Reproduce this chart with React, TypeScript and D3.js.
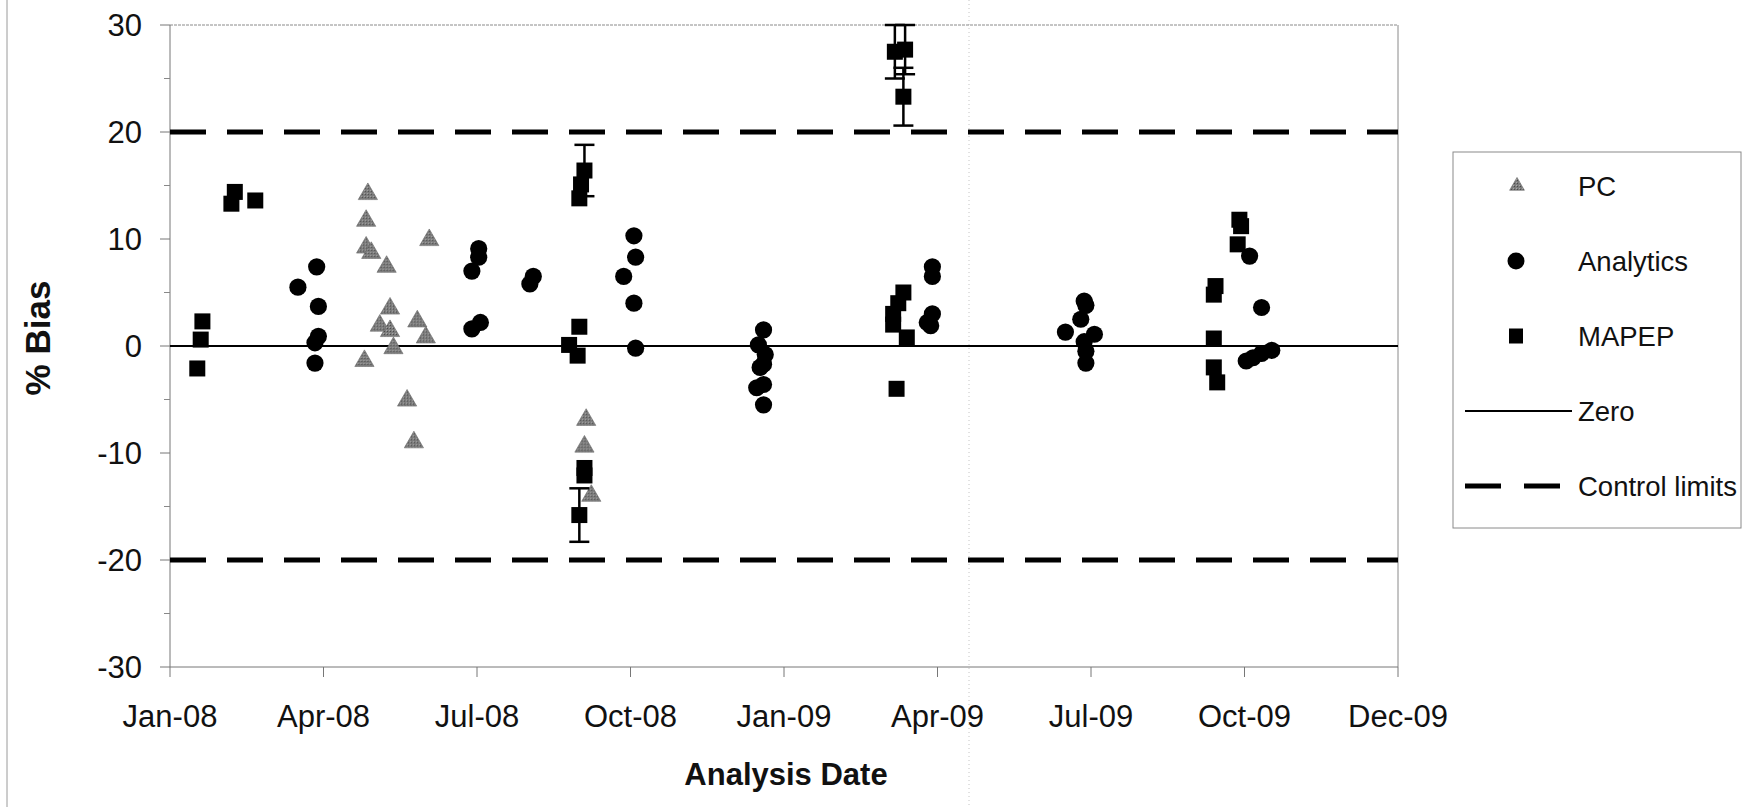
import React from "react";
import * as d3 from "d3";

// ---------- data ----------
const pcData = [
  { date: "2008-05-05", value: 14.2 },
  { date: "2008-05-04", value: 11.7 },
  { date: "2008-05-04", value: 9.2 },
  { date: "2008-05-07", value: 8.7 },
  { date: "2008-05-16", value: 7.4 },
  { date: "2008-06-10", value: 9.9 },
  { date: "2008-05-18", value: 3.5 },
  { date: "2008-05-12", value: 1.9 },
  { date: "2008-05-18", value: 1.4 },
  { date: "2008-06-03", value: 2.3 },
  { date: "2008-06-08", value: 0.8 },
  { date: "2008-05-20", value: -0.2 },
  { date: "2008-05-03", value: -1.4 },
  { date: "2008-05-28", value: -5.1 },
  { date: "2008-06-01", value: -9.0 },
  { date: "2008-09-10", value: -6.9 },
  { date: "2008-09-09", value: -9.4 },
  { date: "2008-09-13", value: -14.0 },
];

const analyticsData = [
  { date: "2008-03-25", value: 5.5 },
  { date: "2008-04-05", value: 7.4 },
  { date: "2008-04-06", value: 3.7 },
  { date: "2008-04-06", value: 0.9 },
  { date: "2008-04-04", value: 0.3 },
  { date: "2008-04-04", value: -1.6 },
  { date: "2008-07-09", value: 9.1 },
  { date: "2008-07-09", value: 8.3 },
  { date: "2008-07-05", value: 7.0 },
  { date: "2008-07-10", value: 2.2 },
  { date: "2008-07-05", value: 1.6 },
  { date: "2008-08-10", value: 6.5 },
  { date: "2008-08-08", value: 5.8 },
  { date: "2008-10-08", value: 10.3 },
  { date: "2008-10-09", value: 8.3 },
  { date: "2008-10-02", value: 6.5 },
  { date: "2008-10-08", value: 4.0 },
  { date: "2008-10-09", value: -0.2 },
  { date: "2008-12-23", value: 1.5 },
  { date: "2008-12-20", value: 0.1 },
  { date: "2008-12-24", value: -0.8 },
  { date: "2008-12-23", value: -1.7 },
  { date: "2008-12-21", value: -2.0 },
  { date: "2008-12-23", value: -3.6 },
  { date: "2008-12-19", value: -3.9 },
  { date: "2008-12-23", value: -5.5 },
  { date: "2009-04-01", value: 7.4 },
  { date: "2009-04-01", value: 6.5 },
  { date: "2009-04-01", value: 3.0 },
  { date: "2009-03-29", value: 2.2 },
  { date: "2009-03-31", value: 1.9 },
  { date: "2009-06-29", value: 4.2 },
  { date: "2009-06-30", value: 3.8 },
  { date: "2009-06-27", value: 2.5 },
  { date: "2009-06-18", value: 1.3 },
  { date: "2009-07-05", value: 1.1 },
  { date: "2009-06-29", value: 0.4 },
  { date: "2009-06-30", value: -0.5 },
  { date: "2009-06-30", value: -1.6 },
  { date: "2009-10-04", value: 8.4 },
  { date: "2009-10-11", value: 3.6 },
  { date: "2009-10-02", value: -1.4 },
  { date: "2009-10-06", value: -1.1 },
  { date: "2009-10-11", value: -0.7 },
  { date: "2009-10-17", value: -0.4 },
];

const mapepData = [
  { date: "2008-01-29", value: 2.3, err: 0 },
  { date: "2008-01-28", value: 0.6, err: 0 },
  { date: "2008-01-26", value: -2.1, err: 0 },
  { date: "2008-02-17", value: 14.4, err: 0 },
  { date: "2008-02-15", value: 13.3, err: 0 },
  { date: "2008-02-29", value: 13.6, err: 0 },
  { date: "2008-09-09", value: 16.4, err: 2.4 },
  { date: "2008-09-07", value: 15.1, err: 0 },
  { date: "2008-09-06", value: 13.8, err: 0 },
  { date: "2008-09-06", value: 1.8, err: 0 },
  { date: "2008-08-31", value: 0.1, err: 0 },
  { date: "2008-09-05", value: -0.9, err: 0 },
  { date: "2008-09-09", value: -11.4, err: 0 },
  { date: "2008-09-09", value: -12.1, err: 0 },
  { date: "2008-09-06", value: -15.8, err: 2.5 },
  { date: "2009-03-10", value: 27.5, err: 2.5 },
  { date: "2009-03-16", value: 27.7, err: 2.3 },
  { date: "2009-03-15", value: 23.3, err: 2.7 },
  { date: "2009-03-15", value: 5.0, err: 0 },
  { date: "2009-03-12", value: 4.0, err: 0 },
  { date: "2009-03-09", value: 3.0, err: 0 },
  { date: "2009-03-09", value: 2.0, err: 0 },
  { date: "2009-03-17", value: 0.8, err: 0 },
  { date: "2009-03-11", value: -4.0, err: 0 },
  { date: "2009-09-28", value: 11.8, err: 0 },
  { date: "2009-09-29", value: 11.2, err: 0 },
  { date: "2009-09-27", value: 9.5, err: 0 },
  { date: "2009-09-14", value: 5.6, err: 0 },
  { date: "2009-09-13", value: 4.8, err: 0 },
  { date: "2009-09-13", value: 0.7, err: 0 },
  { date: "2009-09-13", value: -2.0, err: 0 },
  { date: "2009-09-15", value: -3.4, err: 0 },
];

const controlLimits = [20, -20];
const zeroValue = 0;
const yTicks = [30, 20, 10, 0, -10, -20, -30];
const yMinorTicks = [25, 15, 5, -5, -15, -25];
const axisStart = "2008-01-10";
const axisEnd = "2009-12-30";
const tickStepDays = 90;
const tickCount = 9;
const legendItems = ["PC", "Analytics", "MAPEP", "Zero", "Control limits"];

// ---------- layout ----------
const W = 1762;
const H = 807;
const left = 170;
const right = 1398;
const top = 25;
const bottom = 667;
const FONT = "'Liberation Sans', Arial, sans-serif";

const parse = d3.utcParse("%Y-%m-%d");
const fmt = d3.utcFormat("%b-%y");

export default function App() {
  const start = parse(axisStart)!;
  const x = d3.scaleUtc().domain([start, parse(axisEnd)!]).range([left, right]);
  const y = d3.scaleLinear().domain([-30, 30]).range([bottom, top]);
  const xTicks = d3.range(tickCount).map((i) => d3.utcDay.offset(start, i * tickStepDays));

  const tri = d3.symbol().type(d3.symbolTriangle).size(160)();
  const triLegend = d3.symbol().type(d3.symbolTriangle).size(95)();

  const sq = 16;
  const r = 8.6;

  return (
    <svg
      width={W}
      height={H}
      style={{ position: "absolute", left: 0, top: 0, background: "#fff" }}
      fontFamily={FONT}
    >
      <defs>
        <pattern id="stip" width="3" height="3" patternUnits="userSpaceOnUse">
          <rect width="3" height="3" fill="#7c7c7c" />
          <rect width="1" height="1" fill="#4a4a4a" />
          <rect x="2" y="2" width="1" height="1" fill="#a8a8a8" />
        </pattern>
      </defs>
      <rect width={W} height={H} fill="#fff" />
      {/* scan artifacts */}
      <line x1={7} x2={7} y1={0} y2={H} stroke="#9a9a9a" strokeWidth={1} />
      <line x1={969} x2={969} y1={0} y2={H} stroke="#c4c4c4" strokeWidth={1} strokeDasharray="1,3" />

      {/* plot frame */}
      <line x1={left} x2={right} y1={top} y2={top} stroke="#8a8a8a" strokeWidth={1} strokeDasharray="3,1" />
      <line x1={right} x2={right} y1={top} y2={bottom} stroke="#8a8a8a" strokeWidth={1} />
      <line x1={left} x2={left} y1={top} y2={bottom} stroke="#777" strokeWidth={1} />
      <line x1={left} x2={right} y1={bottom} y2={bottom} stroke="#777" strokeWidth={1} />

      {/* y ticks */}
      {yTicks.map((t) => (
        <g key={"yt" + t}>
          <line x1={left - 10} x2={left} y1={y(t)} y2={y(t)} stroke="#777" />
          <text
            x={142}
            y={y(t)}
            textAnchor="end"
            dominantBaseline="central"
            fontSize={31}
            fill="#111"
          >
            {t}
          </text>
        </g>
      ))}
      {yMinorTicks.map((t) => (
        <line key={"ym" + t} x1={left - 6} x2={left} y1={y(t)} y2={y(t)} stroke="#888" />
      ))}

      {/* x ticks */}
      {xTicks.map((d, i) => (
        <g key={"xt" + i}>
          <line x1={x(d)} x2={x(d)} y1={bottom} y2={bottom + 10} stroke="#777" />
          <text x={x(d)} y={727} textAnchor="middle" fontSize={31} fill="#111">
            {fmt(d)}
          </text>
        </g>
      ))}

      {/* axis titles */}
      <text
        transform={`translate(50,${338}) rotate(-90)`}
        textAnchor="middle"
        fontSize={35}
        fontWeight="bold"
        fill="#111"
      >
        % Bias
      </text>
      <text x={786} y={785} textAnchor="middle" fontSize={31} fontWeight="bold" fill="#111">
        Analysis Date
      </text>

      {/* reference lines */}
      <line x1={left} x2={right} y1={y(zeroValue)} y2={y(zeroValue)} stroke="#000" strokeWidth={2} />
      {controlLimits.map((c) => (
        <line
          key={"cl" + c}
          x1={left}
          x2={right}
          y1={y(c)}
          y2={y(c)}
          stroke="#000"
          strokeWidth={5}
          strokeDasharray="36,21"
        />
      ))}

      {/* PC */}
      {pcData.map((d, i) => (
        <path
          key={"pc" + i}
          d={tri!}
          transform={`translate(${x(parse(d.date)!)},${y(d.value)})`}
          fill="url(#stip)"
          stroke="#666"
          strokeWidth={0.6}
        />
      ))}

      {/* Analytics */}
      {analyticsData.map((d, i) => (
        <circle key={"an" + i} cx={x(parse(d.date)!)} cy={y(d.value)} r={r} fill="#000" />
      ))}

      {/* MAPEP error bars */}
      {mapepData
        .filter((d) => d.err > 0)
        .map((d, i) => {
          const cx = x(parse(d.date)!);
          return (
            <g key={"eb" + i} stroke="#000" strokeWidth={2.5}>
              <line x1={cx} x2={cx} y1={y(d.value + d.err)} y2={y(d.value - d.err)} />
              <line x1={cx - 10} x2={cx + 10} y1={y(d.value + d.err)} y2={y(d.value + d.err)} />
              <line x1={cx - 10} x2={cx + 10} y1={y(d.value - d.err)} y2={y(d.value - d.err)} />
            </g>
          );
        })}
      {/* MAPEP */}
      {mapepData.map((d, i) => (
        <rect
          key={"mp" + i}
          x={x(parse(d.date)!) - sq / 2}
          y={y(d.value) - sq / 2}
          width={sq}
          height={sq}
          fill="#000"
        />
      ))}

      {/* legend */}
      <rect x={1453} y={152} width={288} height={376} fill="#fff" stroke="#8a8a8a" strokeWidth={1} />
      {legendItems.map((name, i) => {
        const ly = 186 + i * 75;
        return (
          <g key={"lg" + i}>
            {i === 0 && (
              <path d={triLegend!} transform={`translate(1517,${ly})`} fill="url(#stip)" stroke="#666" strokeWidth={0.6} />
            )}
            {i === 1 && <circle cx={1516} cy={ly} r={8.5} fill="#000" />}
            {i === 2 && <rect x={1509} y={ly - 7.5} width={14} height={15} fill="#000" />}
            {i === 3 && <line x1={1465} x2={1572} y1={ly} y2={ly} stroke="#000" strokeWidth={2} />}
            {i === 4 && (
              <line
                x1={1465}
                x2={1560}
                y1={ly}
                y2={ly}
                stroke="#000"
                strokeWidth={5}
                strokeDasharray="36,23"
              />
            )}
            <text x={1578} y={ly} dominantBaseline="central" fontSize={27.5} fill="#111">
              {name}
            </text>
          </g>
        );
      })}
    </svg>
  );
}
